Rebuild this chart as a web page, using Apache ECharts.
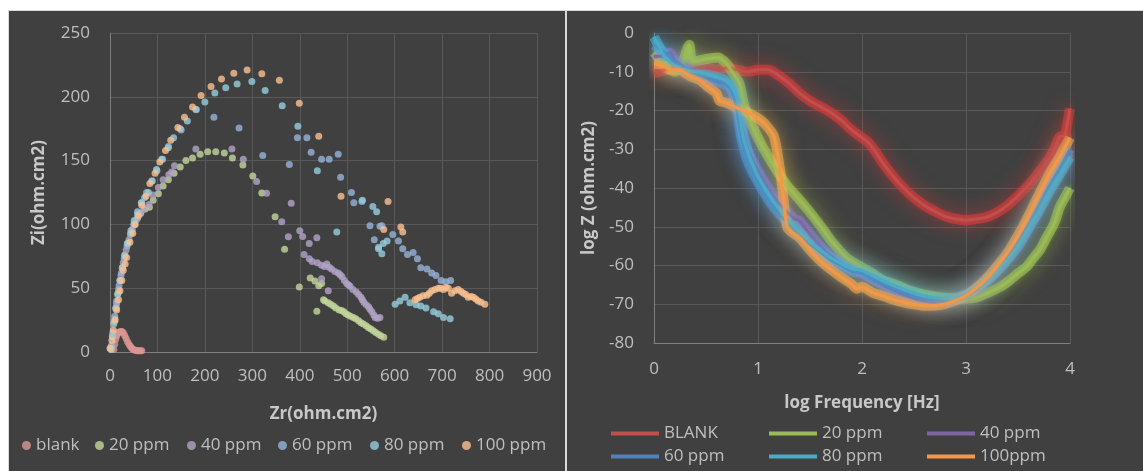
<!DOCTYPE html>
<html><head><meta charset="utf-8">
<script src="https://cdn.jsdelivr.net/npm/echarts@6/dist/echarts.min.js"></script>
<style>html,body{margin:0;padding:0;background:#fff}#c{width:1143px;height:471px}</style>
</head><body><div id="c"></div>
<script>
// ---------- Left panel (Nyquist) data: [Zr, Zi] ----------
const namesL = ['blank', '20 ppm', '40 ppm', '60 ppm', '80 ppm', '100 ppm'];
const blank = [[8,2],[10,6],[12,10],[14,12.5],[16,14.5],[19,15.5],[22,16],[25,16],[28,15],[31,13],[34,10.5],[37,8],[40,6],[43,4.5],[46,3],[49,2],[52,1.5],[55,1.2],[58,1],[61,1],[64,1],[67,1]];
const ppm20 = [[2,2],[5,12],[9,24],[13,35],[17,46],[21,56],[26,66],[31,76],[37,85],[44,93],[51,100],[58,105],[65,109],[74,112],[83,113.5],[91,119],[102,124],[112,130],[123,135],[135,140],[148,145],[160,150],[174,152],[190,155],[206,157],[223,157],[241,156],[258,152],[280,146.6],[301,138],[320,124.7],[348,106],[368,80.5],[399,51],[422,58],[432,55.7],[440,52],[446,53.6],[436,32],[450,41],[453,40],[460,38.5],[465,37.5],[471,36],[476,34.5],[483,33],[488,32.5],[493,31.5],[497,30],[502,29],[507,28],[513,27],[518,26],[524,24.5],[529,23],[534,22],[540,20.5],[545,19],[550,18],[555,16.6],[560,15.3],[566,14],[571,12.7],[577,11.5]];
const ppm40 = [[3,4],[6,14],[10,26],[14,38],[18,49],[23,60],[28,70],[34,80],[40,88],[47,96],[55,103],[63,108],[72,112],[82,115.6],[91,123],[102,129],[112,135],[124,139],[130,141],[136,146],[181,159],[257,159],[281,151],[309,133.6],[330,124.5],[362,102],[382,116.6],[376,90.3],[400,95],[406,90.6],[436,89.6],[420,85],[409,76.5],[420,73],[426,71],[437,70],[446,68],[452,67],[457,69],[462,66.5],[467,65],[474,63],[481,62],[485,60.5],[489,59],[494,56],[499,53.6],[503,52.5],[506,51.6],[512,49],[519,47],[524,45],[529,43],[532,41],[535,39],[540,37],[545,35.4],[548,33.5],[552,31.5],[556,29],[559,27],[564,26.5],[569,27],[446,57.5],[460,48]];
const ppm60 = [[3,5],[6,15],[10,28],[14,40],[19,52],[24,62],[30,73],[36,83],[43,92],[50,100],[58,108],[67,117],[77,125],[88,134],[99,142],[111,151],[123,161],[150,174],[182,190],[219,184],[272,175.5],[322,154],[378,147],[395,168],[415,168],[424,156.5],[446,151],[462,151],[481,155],[486,137],[509,125],[514,117],[531,118],[548,99],[557,88],[566,82],[569,98.5],[573,99],[596,92],[608,87],[617,81],[627,76.5],[639,78],[648,73],[655,66],[668,65],[678,62],[687,60],[698,56],[708,55],[718,56]];
const ppm80 = [[2,3],[5,12],[8,22],[12,34],[16,45],[21,56],[26,66],[31,75],[37,85],[44,95],[51,103],[58,110],[66,117],[73,121],[81,125],[89,134],[98,143],[109,151],[123,160],[134,168],[148,175],[163,181],[181,190],[200,196],[221,203],[244,207],[268,210],[299,212],[327,205],[363,193],[396,177],[437,142],[478,94],[532,119],[554,114],[562,110],[566,81],[573,77],[576,85],[584,87],[601,37.5],[611,40],[622,43],[632,38.5],[645,37],[655,36],[666,34.5],[682,31.5],[692,30],[703,27],[717,26]];
const ppm100 = [[0,3],[4,9],[7,17],[11,25],[14,33],[18,41],[21,48],[25,56],[28,64],[32,69],[35,74],[42,86],[48,93],[53,100],[60,107],[67,115],[76,122],[84,132],[95,140],[105,149],[117,158],[128,166],[143,176],[157,184],[174,192],[192,201],[213,208],[235,214],[261,218.5],[289,221],[320,218],[357,213],[399,195],[440,169],[487,122],[586,118],[577,96],[613,98],[617,94],[643,41],[648,42],[653,43],[660,44],[668,44.5],[673,46],[678,48],[685,49],[692,50],[697,50],[703,49],[708,50.5],[713,50],[720,46],[727,48],[734,49],[740,47.5],[745,46],[750,45],[755,43],[761,43.5],[766,43],[771,41.5],[776,40],[782,39],[790,37.5]];
const xTicksL = {min: 0, max: 900, step: 100};
const yTicksL = {min: 0, max: 250, step: 50};

// ---------- Right panel (Bode) data: [log f, log Z] ----------
const namesR = ['BLANK', '20 ppm', '40 ppm', '60 ppm', '80 ppm', '100ppm'];
const lineBlank = [[0,-10.5],[0.1,-9.5],[0.2,-9],[0.3,-9.5],[0.4,-9],[0.5,-9],[0.6,-9.5],[0.7,-9],[0.8,-9.5],[0.9,-10],[1.0,-9.5],[1.1,-9.5],[1.2,-11],[1.3,-13],[1.4,-15.5],[1.5,-17.5],[1.6,-19],[1.7,-20.5],[1.8,-22.5],[1.9,-25],[2.0,-27],[2.05,-28],[2.1,-29.5],[2.2,-33.5],[2.3,-37],[2.4,-40],[2.5,-42.5],[2.6,-44.5],[2.7,-46],[2.8,-47.3],[2.9,-48],[3.0,-48.3],[3.1,-48],[3.2,-47.5],[3.3,-46.3],[3.4,-44.5],[3.5,-42],[3.6,-39.3],[3.7,-36],[3.8,-32.3],[3.85,-30],[3.9,-26.8],[3.95,-26.3],[3.97,-24],[4.0,-19.5]];
const line20 = [[0,-5],[0.1,-8],[0.2,-10],[0.27,-8],[0.32,-4],[0.34,-3],[0.37,-7.5],[0.45,-7],[0.55,-6.5],[0.62,-6.3],[0.7,-8],[0.75,-10],[0.82,-13],[0.87,-19],[0.98,-26],[1.1,-32],[1.27,-39],[1.43,-44],[1.55,-48],[1.62,-50.5],[1.7,-53.5],[1.85,-58],[2.0,-60.5],[2.1,-62],[2.2,-63.8],[2.35,-65.2],[2.45,-66.4],[2.6,-67.5],[2.75,-68.2],[2.95,-68.6],[3.1,-68.2],[3.23,-66.8],[3.33,-65.5],[3.42,-63.8],[3.5,-62],[3.58,-60.4],[3.65,-58],[3.71,-56],[3.78,-52.5],[3.85,-49],[3.9,-45],[3.95,-42.5],[4.0,-40]];
const line40 = [[0,-6],[0.1,-6],[0.15,-5],[0.2,-7],[0.3,-9],[0.4,-10.5],[0.5,-11.5],[0.6,-12.3],[0.7,-13],[0.75,-15],[0.8,-19],[0.85,-25],[0.9,-30],[1.0,-35.5],[1.1,-40],[1.2,-44],[1.35,-48],[1.4,-48.5],[1.5,-52],[1.6,-55],[1.7,-57.5],[1.8,-59.5],[1.9,-61],[2.0,-62],[2.1,-63.5],[2.2,-65],[2.3,-66.3],[2.4,-67.5],[2.5,-68.5],[2.6,-69.2],[2.7,-69.5],[2.8,-69.3],[2.9,-68.8],[3.0,-67.8],[3.1,-66.2],[3.2,-64],[3.3,-61.3],[3.4,-58],[3.5,-54.3],[3.6,-50],[3.7,-45],[3.8,-40],[3.9,-35.5],[4.0,-31]];
const line60 = [[0,-3],[0.1,-5],[0.2,-7.5],[0.3,-9],[0.4,-10.5],[0.5,-11.5],[0.6,-12.5],[0.7,-13.5],[0.75,-15],[0.8,-20],[0.84,-27],[0.9,-33],[1.0,-38.5],[1.1,-43],[1.2,-46.5],[1.3,-49.5],[1.4,-52],[1.5,-54.5],[1.6,-56.5],[1.7,-58.5],[1.8,-60],[1.9,-61.5],[2.0,-62],[2.1,-63.5],[2.2,-64.8],[2.3,-66],[2.4,-67],[2.5,-68],[2.6,-68.7],[2.7,-69],[2.8,-69],[2.9,-68.5],[3.0,-67.5],[3.1,-66],[3.2,-63.8],[3.3,-61],[3.4,-57.8],[3.5,-54],[3.6,-49.5],[3.7,-44.5],[3.8,-39.5],[3.9,-35],[4.0,-30]];
const line80 = [[0,-1],[0.05,-3.5],[0.1,-6],[0.2,-8.5],[0.3,-9.5],[0.4,-10],[0.5,-10.5],[0.6,-11.3],[0.7,-12.5],[0.75,-14],[0.8,-17],[0.83,-22],[0.86,-27],[0.92,-32],[1.0,-37],[1.1,-41.5],[1.2,-45.3],[1.3,-48.5],[1.4,-51.3],[1.5,-53.8],[1.6,-56],[1.7,-58],[1.8,-59.5],[1.9,-60.8],[2.0,-61.3],[2.1,-62.5],[2.2,-63.8],[2.3,-65],[2.4,-66],[2.5,-67],[2.6,-67.8],[2.7,-68.3],[2.8,-68.5],[2.9,-68.3],[3.0,-67.5],[3.1,-66],[3.2,-64],[3.3,-61.5],[3.4,-58.5],[3.5,-55],[3.6,-50.5],[3.7,-46],[3.8,-41],[3.9,-36.5],[4.0,-32]];
const line100 = [[0,-8],[0.05,-8],[0.1,-8.5],[0.15,-9.5],[0.2,-9.5],[0.25,-9.5],[0.3,-10.3],[0.35,-11.2],[0.4,-11.7],[0.45,-12.3],[0.5,-13.5],[0.55,-14.5],[0.6,-15.5],[0.63,-17.5],[0.7,-18],[0.8,-19.3],[0.9,-20.5],[1.0,-22],[1.05,-23],[1.1,-24.5],[1.15,-26.5],[1.18,-30],[1.22,-37],[1.25,-44],[1.28,-50],[1.32,-51.3],[1.4,-52.8],[1.5,-56],[1.6,-58.8],[1.7,-61],[1.8,-63],[1.9,-64.8],[1.95,-66],[2.0,-65.5],[2.1,-67],[2.2,-67.8],[2.3,-68.8],[2.4,-69.5],[2.5,-70],[2.6,-70.4],[2.7,-70.3],[2.8,-69.9],[2.9,-69],[3.0,-67.8],[3.1,-65.8],[3.2,-63.3],[3.3,-60.2],[3.4,-56.7],[3.5,-52.3],[3.6,-47.3],[3.7,-41.8],[3.8,-36.5],[3.9,-32],[4.0,-27]];
const xTicksR = {min: 0, max: 4, step: 1};
const yTicksR = {min: -80, max: 0, step: 10};

// ---------- styling ----------
const colorsL = ['#d99694', '#c3d69b', '#b3a2c7', '#95b3d7', '#93cddd', '#fac090'];
const colorsR = ['#c0504d', '#9bbb59', '#8064a2', '#4f81bd', '#4bacc6', '#f79646'];
const glowR = ['rgba(225,60,60,1)', 'rgba(175,215,80,1)', 'rgba(150,110,200,1)', 'rgba(80,145,215,1)', 'rgba(70,185,215,1)', 'rgba(250,175,80,1)'];
const FONT = 'Open Sans';
const TXT = '#bfbfbf';
const GRIDC = '#595959';
const AXC = '#808080';
const lbl = {color: TXT, fontFamily: FONT, fontSize: 17};
const ttl = {color: '#c8c8c8', fontFamily: FONT, fontSize: 17, fontWeight: 'bold'};

const dataL = [blank, ppm20, ppm40, ppm60, ppm80, ppm100];
const dataR = [lineBlank, line20, line40, line60, line80, line100];

const series = [];
dataL.forEach((d, i) => series.push({
  name: namesL[i], type: 'scatter', xAxisIndex: 0, yAxisIndex: 0, data: d,
  symbol: 'circle', symbolSize: 7, itemStyle: {color: colorsL[i]}, z: 3 + i
}));
// main lines (listed first so legends take their style)
dataR.forEach((d, i) => series.push({
  name: namesR[i], type: 'line', xAxisIndex: 1, yAxisIndex: 1, data: d,
  showSymbol: false, symbol: 'none', smooth: 0.25, color: colorsR[i],
  lineStyle: {width: 3, color: colorsR[i], shadowBlur: 6, shadowColor: glowR[i]}, z: 20 + i
}));
// soft glow halo drawn under the lines
dataR.forEach((d, i) => series.push({
  name: namesR[i], type: 'line', xAxisIndex: 1, yAxisIndex: 1, data: d,
  showSymbol: false, symbol: 'none', smooth: 0.25, silent: true,
  lineStyle: {width: 10, color: glowR[i], opacity: 0.55, shadowBlur: 20, shadowColor: glowR[i]}, z: 10 + i
}));

const legPosL = [22, 95, 187, 278, 370, 462];
const legPosR = [[611, 425], [769, 425], [927, 425], [611, 448], [769, 448], [927, 448]];
const legends = [];
namesL.forEach((n, i) => legends.push({
  data: [n], left: legPosL[i], top: 437, padding: 0, itemWidth: 9, itemHeight: 9, itemGap: 0,
  icon: 'circle', textStyle: lbl, selectedMode: false
}));
namesR.forEach((n, i) => legends.push({
  data: [{name: n, itemStyle: {color: colorsR[i], opacity: 1}}], left: legPosR[i][0], top: legPosR[i][1], padding: 0, itemWidth: 48, itemHeight: 4, itemGap: 0,
  icon: 'rect', textStyle: lbl, selectedMode: false
}));

function valAxis(o) {
  return Object.assign({
    type: 'value',
    axisLine: {show: true, onZero: false, lineStyle: {color: AXC, width: 1}},
    axisTick: {show: false},
    splitLine: {show: true, lineStyle: {color: GRIDC, width: 1}},
    axisLabel: Object.assign({}, lbl),
    nameLocation: 'middle', nameTextStyle: ttl
  }, o);
}

const option = {
  animation: false,
  backgroundColor: '#ffffff',
  graphic: {elements: [
    {type: 'rect', z: -10, silent: true, shape: {x: 8.5, y: 10.5, width: 557, height: 461}, style: {fill: '#404040', stroke: '#d9d9d9', lineWidth: 1}},
    {type: 'rect', z: -10, silent: true, shape: {x: 566.5, y: 10.5, width: 577, height: 461}, style: {fill: '#404040', stroke: '#d9d9d9', lineWidth: 1}}
  ]},
  grid: [
    {left: 110, top: 33, width: 427, height: 319, containLabel: false, outerBoundsMode: 'none'},
    {left: 654, top: 33, width: 416, height: 310, containLabel: false, outerBoundsMode: 'none'}
  ],
  xAxis: [
    valAxis({gridIndex: 0, min: xTicksL.min, max: xTicksL.max, interval: xTicksL.step, name: 'Zr(ohm.cm2)', nameGap: 54, axisLabel: Object.assign({}, lbl, {margin: 16})}),
    valAxis({gridIndex: 1, min: xTicksR.min, max: xTicksR.max, interval: xTicksR.step, name: 'log Frequency [Hz]', nameGap: 52, axisLabel: Object.assign({}, lbl, {margin: 18})})
  ],
  yAxis: [
    valAxis({gridIndex: 0, min: yTicksL.min, max: yTicksL.max, interval: yTicksL.step, name: 'Zi(ohm.cm2)', nameGap: 62, axisLabel: Object.assign({}, lbl, {margin: 20})}),
    valAxis({gridIndex: 1, min: yTicksR.min, max: yTicksR.max, interval: yTicksR.step, name: 'log Z (ohm.cm2)', nameGap: 56, axisLabel: Object.assign({}, lbl, {margin: 20})})
  ],
  legend: legends,
  series: series
};
const chart = echarts.init(document.getElementById('c'));
chart.setOption(option);
</script>
</body></html>
